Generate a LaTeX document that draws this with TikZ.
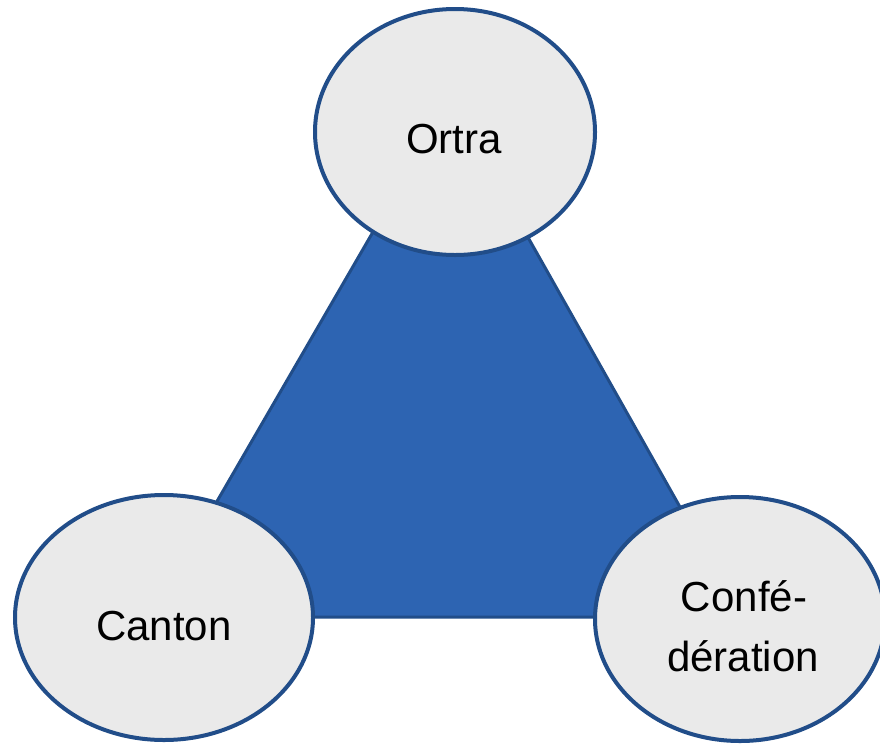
\documentclass[tikz,border=0pt]{standalone}
\usepackage{fontspec}
\setmainfont{Liberation Sans}
\usetikzlibrary{shapes.geometric}
\definecolor{triFill}{RGB}{45,100,178}
\definecolor{edgeBlue}{RGB}{33,77,137}
\definecolor{ovalFill}{RGB}{234,234,234}
\tikzset{
  oval/.style={ellipse, draw=edgeBlue, line width=4pt, fill=ovalFill, inner sep=0pt},
  lbl/.style={anchor=base, inner sep=0pt, font=\fontsize{42}{60}\selectfont}
}
\begin{document}
\begin{tikzpicture}[x=1pt,y=-1pt]
\useasboundingbox (0,0) rectangle (880,745);
\coordinate (tA) at (450,99);
\coordinate (tL) at (150,617);
\coordinate (tR) at (742,617);
\draw[fill=triFill, draw=edgeBlue, line width=3pt, line join=miter] (tA) -- (tL) -- (tR) -- cycle;
\node[oval, minimum width=280pt, minimum height=246pt] (ortra) at (455,132) {};
\node[oval, minimum width=298pt, minimum height=245pt] (canton) at (164,617.5) {};
\node[oval, minimum width=290pt, minimum height=244pt] (conf) at (740,619) {};
\node[lbl] (ortraT) at (454,153.3) {Ortra};
\node[lbl] (cantonT) at (164,640.7) {Canton};
\node[lbl] (confT1) at (744,611.7) {Confé-};
\node[lbl] (confT2) at (743,671.7) {dération};
\end{tikzpicture}
\end{document}
